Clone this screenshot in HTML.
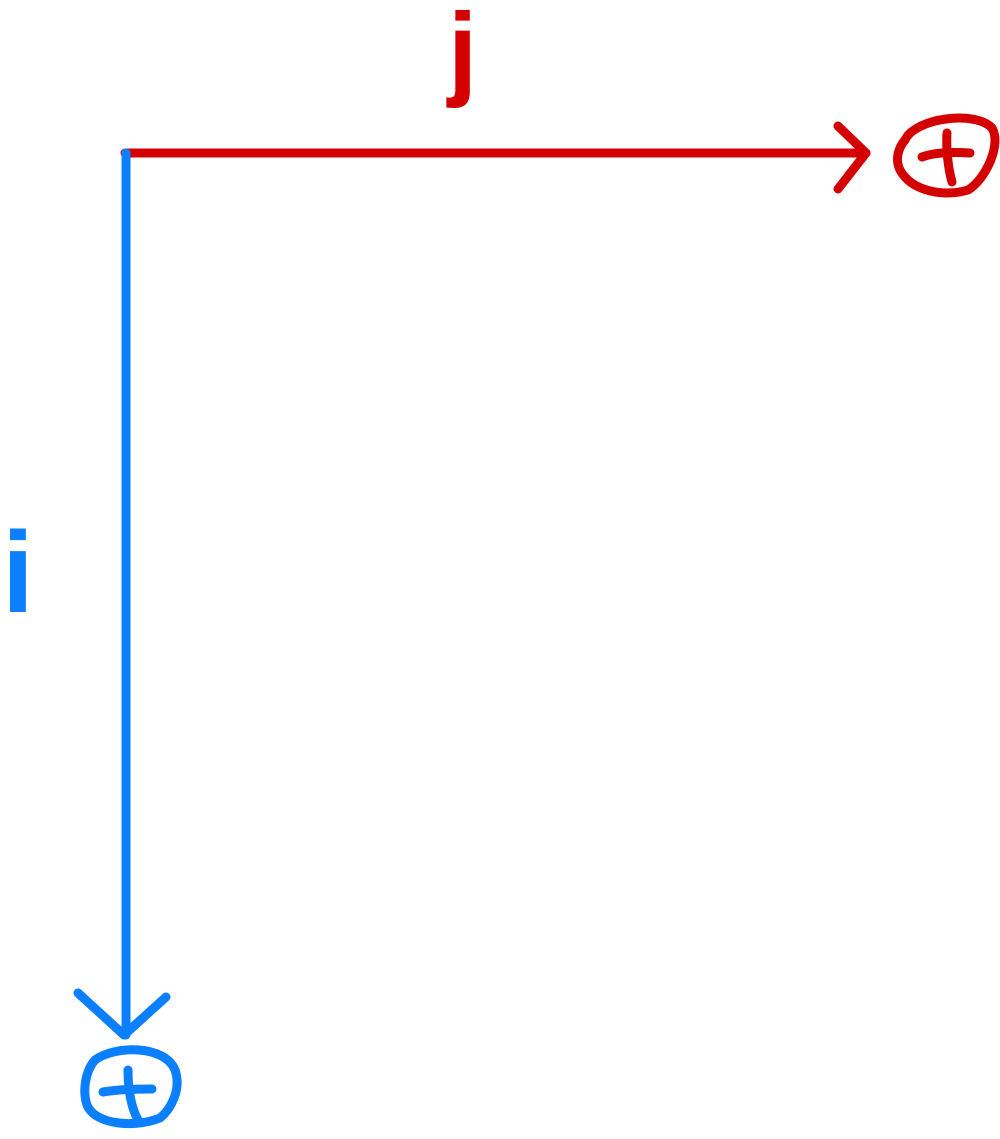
<!DOCTYPE html>
<html><head><meta charset="utf-8"><style>html,body{margin:0;padding:0;background:#fff;}svg{display:block}</style></head>
<body>
<svg width="1000" height="1139" viewBox="0 0 1000 1139" xmlns="http://www.w3.org/2000/svg">
<g fill="none" stroke-linecap="round" stroke-linejoin="round">
<line x1="125" y1="153" x2="866" y2="153" stroke="#d40000" stroke-width="9"/>
<polyline points="838,126 866,153 838,189" stroke="#d40000" stroke-width="9"/>
<path d="M905,140 C915,118 975,110 992,128 C1002,145 985,180 968,190 C945,197 912,192 900,170 C895,160 898,148 905,140 Z" stroke="#d40000" stroke-width="9"/>
<path d="M922,157 C935,152 955,152 970,153" stroke="#d40000" stroke-width="9"/>
<path d="M947,133 C946,148 948,168 952,182" stroke="#d40000" stroke-width="9"/>
<line x1="126" y1="153" x2="126" y2="1035" stroke="#0a7fff" stroke-width="9"/>
<polyline points="78,993 124,1035 166,997" stroke="#0a7fff" stroke-width="9"/>
<path d="M95,1060 C115,1045 165,1045 175,1070 C182,1090 170,1110 160,1118 C135,1128 95,1125 87,1105 C82,1090 86,1070 95,1060 Z" stroke="#0a7fff" stroke-width="9"/>
<path d="M103,1092 C115,1090 135,1089 152,1089" stroke="#0a7fff" stroke-width="9"/>
<path d="M128,1070 C128,1085 130,1105 138,1120" stroke="#0a7fff" stroke-width="9"/>
</g>
<text x="448" y="86" font-family="Liberation Sans, sans-serif" font-weight="bold" font-size="105" fill="#d40000">j</text>
<text x="2" y="612" font-family="Liberation Sans, sans-serif" font-weight="bold" font-size="115" fill="#0a7fff">i</text>
</svg>
</body></html>
